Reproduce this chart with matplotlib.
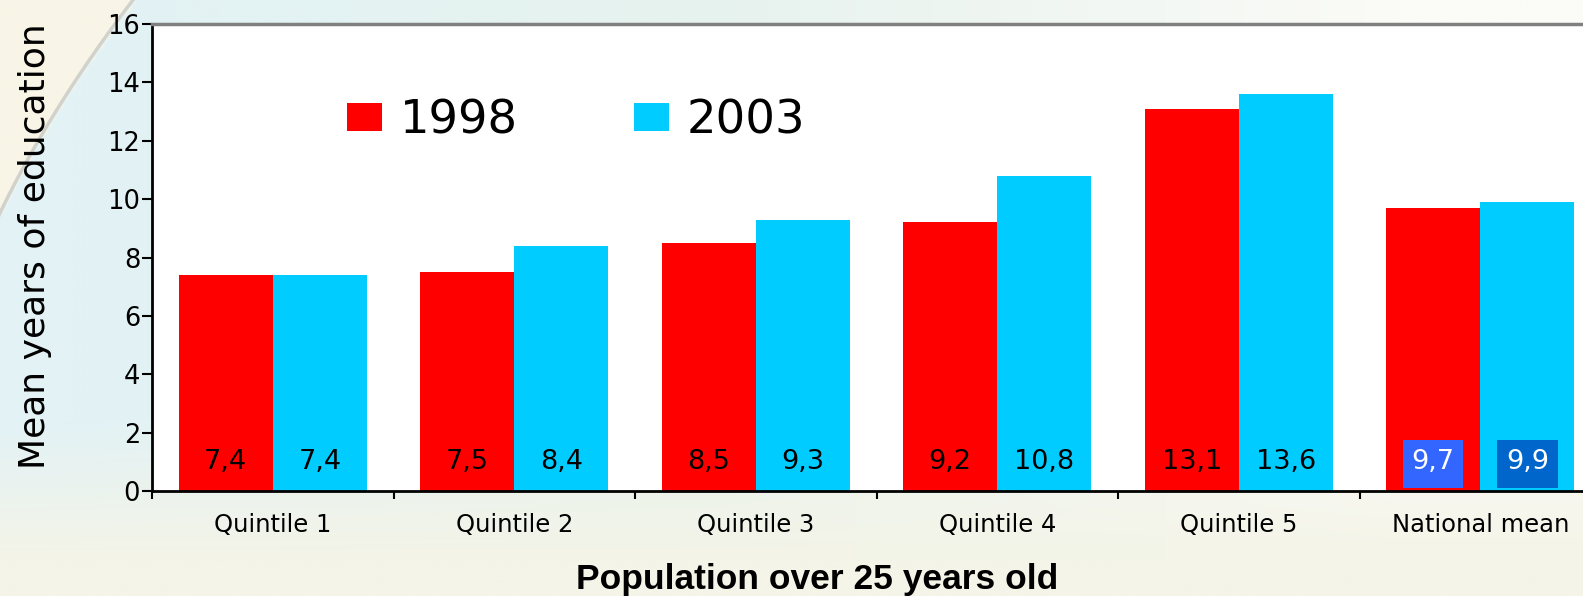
import numpy as np
import matplotlib
matplotlib.use("Agg")
import matplotlib.pyplot as plt
from matplotlib.colors import to_rgb
from matplotlib.patches import Rectangle

plt.rcParams['font.family'] = ['DejaVu Sans']

categories = ["Quintile 1", "Quintile 2", "Quintile 3", "Quintile 4", "Quintile 5", "National mean"]
years = ["1998", "2003"]
values_1998 = [7.4, 7.5, 8.5, 9.2, 13.1, 9.7]
values_2003 = [7.4, 8.4, 9.3, 10.8, 13.6, 9.9]
y_ticks = [0, 2, 4, 6, 8, 10, 12, 14, 16]

RED = "#ff0000"
CYAN = "#00ccff"

W, H = 1583, 596
fig = plt.figure(figsize=(W / 100, H / 100), dpi=100)

# soft slide background, built in pixel space
bg = fig.add_axes([0, 0, 1, 1], zorder=-10)
bg.set_axis_off()
gx, gy = np.meshgrid(np.linspace(0, W, 400), np.linspace(0, H, 160))
c_blue = np.array(to_rgb("#e2f2f6"))
c_teal = np.array(to_rgb("#e6f2ee"))
c_white = np.array(to_rgb("#fbfbf7"))
c_cream = np.array(to_rgb("#f4f4e8"))
c_beige = np.array(to_rgb("#f8f5e7"))
t1 = np.clip(gx / 700, 0, 1)[..., None]
t2 = np.clip((gx - 700) / 700, 0, 1)[..., None]
row = np.where(gx[..., None] < 700, c_blue * (1 - t1) + c_teal * t1,
               c_teal * (1 - t2) + c_white * t2)
tv = np.clip((gy - 420) / 140, 0, 1)[..., None]
img = row * (1 - tv) + c_cream * tv
# arc through the upper-left corner: x = a*y^2 + b*y + c
ys = np.array([0.0, 100.0, 213.0])
xs = np.array([133.0, 63.0, 0.0])
a, b, c = np.polyfit(ys, xs, 2)
arc_x = a * gy ** 2 + b * gy + c
corner = (gx < arc_x)[..., None]
img = np.where(corner, c_beige, img)
bg.imshow(img, extent=[0, W, H, 0], aspect="auto", interpolation="bilinear")
yy_arc = np.linspace(0, 240, 100)
bg.plot(a * yy_arc ** 2 + b * yy_arc + c, yy_arc, color="#d2d2cc", lw=2.5)
bg.set_xlim(0, W)
bg.set_ylim(H, 0)

ax = fig.add_axes([152 / W, 105 / H, 1449 / W, 467 / H])
ax.set_facecolor("white")

x = np.arange(len(categories))
bw = 0.39
ax.bar(x - bw / 2, values_1998, bw, color=RED, label=years[0], zorder=2)
ax.bar(x + bw / 2, values_2003, bw, color=CYAN, label=years[1], zorder=2)


def fmt(v):
    return f"{v:.1f}".replace(".", ",")


n = len(categories)
label_y = 1.0
for i in range(n):
    for xi, v, box in ((x[i] - bw / 2, values_1998[i], "#3366ff"),
                       (x[i] + bw / 2, values_2003[i], "#0066cc")):
        if i == n - 1:
            ax.add_patch(Rectangle((xi - 0.125, 0.1), 0.25, 1.65, fc=box,
                                   ec="none", zorder=3))
            ax.text(xi, label_y, fmt(v), ha="center", va="center",
                    fontsize=19.5, color="white", zorder=4)
        else:
            ax.text(xi, label_y, fmt(v), ha="center", va="center",
                    fontsize=19.5, color="black", zorder=4)

ax.set_xlim(-0.5, n - 0.5)
ax.set_ylim(0, 16)
ax.set_yticks(y_ticks)
ax.tick_params(axis="y", labelsize=18.5, length=7, width=1.5, direction="out", pad=1.5)
ax.set_xticks(x)
ax.set_xticklabels(categories, fontsize=17.5)
ax.tick_params(axis="x", which="major", length=0, pad=16)
ax.set_xticks(np.arange(-0.5, n - 0.5, 1.0), minor=True)
ax.tick_params(axis="x", which="minor", length=6, width=1.5, direction="out")

ax.spines["left"].set_linewidth(2)
ax.spines["bottom"].set_linewidth(2)
ax.spines["top"].set_color("#808080")
ax.spines["top"].set_linewidth(2.5)
ax.spines["right"].set_visible(False)

fig.text(817 / W, 1 - 580 / H, "Population over 25 years old",
         family="Liberation Sans", fontsize=25.5, fontweight="bold",
         ha="center", va="center")

fig.text(45 / W, 1 - 469 / H, "Mean years of education", rotation=90,
         fontsize=26, ha="left", va="baseline", rotation_mode="anchor")

ax.legend(loc="center left", bbox_to_anchor=((347 - 152) / 1449, 1 - (120.5 - 24) / 467),
          ncol=2, frameon=False, fontsize=33.5, handlelength=0.75,
          handleheight=0.55, handletextpad=0.38, columnspacing=2.5,
          borderaxespad=0, borderpad=0)

fig.savefig("out.png", dpi=100)
